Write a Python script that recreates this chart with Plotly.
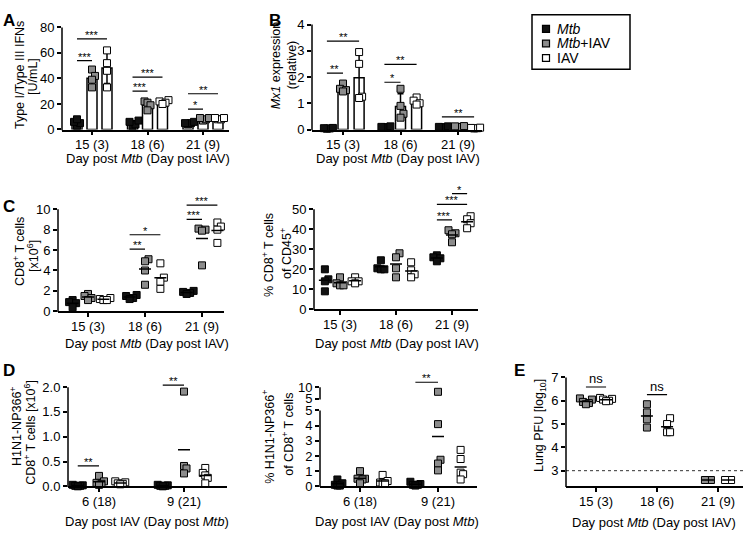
import numpy as np
import plotly.graph_objects as go

W, H = 745, 540
FONT = "Arial, 'Liberation Sans', Helvetica, sans-serif"

# ---------------- data ----------------
GROUPS_MTB = ["15 (3)", "18 (6)", "21 (9)"]
GROUPS_IAV = ["6 (18)", "9 (21)"]
SERIES_NAMES = ["<i>Mtb</i>", "<i>Mtb</i>+IAV", "IAV"]

# A: Type I/Type III IFNs [U/mL]
ifn_mtb = [[3, 5, 6, 8], [3, 4, 6, 7], [4, 5, 5, 6]]
ifn_mtb_iav = [[47, 42, 39, 33], [22, 21, 19, 15], [7, 8, 9, 9]]
ifn_iav = [[62, 52, 46, 33], [23, 22, 21, 20], [8, 8, 9, 9]]
ifn_sig = [(0, 0, 1, 54, "***"), (0, 0, 2, 71, "***"), (1, 0, 1, 30, "***"),
           (1, 0, 2, 41, "***"), (2, 0, 1, 16, "*"), (2, 0, 2, 28, "**")]

# B: Mx1 expression (relative)
mx1_mtb = [[0.03, 0.04, 0.05, 0.06], [0.07, 0.09, 0.1, 0.12], [0.07, 0.09, 0.1, 0.12]]
mx1_mtb_iav = [[1.75, 1.55, 1.5, 1.45], [1.55, 0.9, 0.6, 0.45], [0.08, 0.1, 0.12, 0.13]]
mx1_iav = [[2.95, 2.5, 1.25, 1.2], [1.22, 1.1, 1.0, 0.95], [0.04, 0.05, 0.06, 0.07]]
mx1_sig = [(0, 0, 1, 2.15, "**"), (0, 0, 2, 3.37, "**"), (1, 0, 1, 1.8, "*"),
           (1, 0, 2, 2.48, "**"), (2, 0, 2, 0.48, "**")]

# C left: CD8+ T cells [x10^6]
cd8_mtb = [[1.1, 0.9, 0.8, 0.4], [1.6, 1.5, 1.3, 1.2], [2.0, 1.9, 1.8, 1.7]]
cd8_mtb_iav = [[1.7, 1.5, 1.3, 1.1], [5.1, 4.9, 4.0, 2.6], [8.1, 8.0, 7.9, 4.5]]
cd8_iav = [[1.3, 1.2, 1.1, 1.1], [4.7, 3.3, 2.9, 2.2], [8.7, 8.3, 8.0, 6.7]]
cd8_sig = [(1, 0, 1, 6.1, "**"), (1, 0, 2, 7.5, "*"), (2, 0, 1, 9.0, "***"), (2, 0, 2, 10.4, "***")]

# C right: % CD8+ T cells of CD45+
pct_mtb = [[20, 15, 14, 9], [24.5, 20.5, 20, 20], [27, 26, 25.5, 24]]
pct_mtb_iav = [[16, 13, 12, 12], [28, 26, 20.5, 16], [39.5, 38, 37.5, 33.5]]
pct_iav = [[16, 14, 14, 13], [23.5, 19.5, 17.5, 16], [46.5, 45, 43, 40.5]]
pct_sig = [(2, 0, 1, 44.7, "***"), (2, 0, 2, 52.4, "***"), (2, 1, 2, 57.8, "*")]

# D left: H1N1-NP366+ CD8+ T cells [x10^6]
np_mtb = [[0.03, 0.02, 0.01, 0.01, 0.0], [0.03, 0.02, 0.01, 0.01, 0.0]]
np_mtb_iav = [[0.21, 0.1, 0.07, 0.05, 0.03], [1.91, 0.41, 0.36, 0.26]]
np_iav = [[0.1, 0.08, 0.06, 0.05, 0.04], [0.37, 0.27, 0.22, 0.17, 0.06]]
np_sig = [(0, 0, 1, 0.41, "**"), (1, 0, 1, 2.04, "**")]

# D right: % H1N1-NP366+ of CD8+ T cells (broken axis at 5)
npp_mtb = [[0.45, 0.2, 0.1, 0.05, 0.05], [0.3, 0.15, 0.1, 0.1, 0.05]]
npp_mtb_iav = [[1.0, 0.5, 0.5, 0.45, 0.2], [8.0, 4.1, 1.75, 1.5, 1.05]]
npp_iav = [[0.75, 0.35, 0.25, 0.2, 0.2], [2.4, 1.8, 0.9, 0.8, 0.45]]
npp_sig = [(1, 0, 1, 12.1, "**")]
npp_break = 5

# E: Lung PFU [log10]
pfu_mtb_iav = [[6.1, 6.05, 5.95, 5.9, 5.85], [5.85, 5.5, 5.2, 4.85], [2.6, 2.6, 2.6]]
pfu_iav = [[6.12, 6.08, 6.05, 6.0, 5.98], [5.25, 5.0, 4.65, 4.65], [2.6, 2.6, 2.6]]
pfu_sig = [(0, 1, 2, 6.59, "ns"), (1, 1, 2, 6.26, "ns")]
pfu_lod = 3

# ---------------- styling / layout ----------------
SERIES_FILL = ["#111111", "#8c8c8c", "#ffffff"]

CFG = {
    "A": dict(n=1, x_px=(62, 229), c_px=92, sp=55.5, y_px=(21, 126), yr=(0, 80), ytop=80, ticks=[0, 20, 40, 60, 80]),
    "B": dict(n=2, x_px=(312, 482), c_px=343, sp=57.5, y_px=(18, 126), yr=(0, 4), ytop=4, ticks=[0, 1, 2, 3, 4]),
    "C1": dict(n=3, x_px=(58, 224), c_px=88, sp=57, y_px=(208, 313), yr=(0, 10), ytop=11, ticks=[0, 2, 4, 6, 8, 10]),
    "C2": dict(n=4, x_px=(314, 478), c_px=340, sp=56, y_px=(208, 311), yr=(0, 50), ytop=60, ticks=[0, 10, 20, 30, 40, 50]),
    "D1": dict(n=5, x_px=(68, 227), c_px=99, sp=85, y_px=(391, 493), yr=(0, 2), ytop=2.2, ticks=[0, 0.5, 1, 1.5, 2]),
    "D2": dict(n=6, x_px=(320, 477), c_px=360, sp=78, y_px=(415, 493), yr=(0, 5), ytop=5, ticks=[0, 1, 2, 3, 4, 5]),
    "D2u": dict(n=7, x_px=(320, 477), y_px=(391, 403), yr=(5, 10), ytop=13, ticks=[5, 10]),
    "E": dict(n=8, x_px=(566, 743), c_px=596, sp=61, y_px=(381, 493), yr=(2.33, 7), ytop=7, ticks=[3, 4, 5, 6, 7]),
}

fig = go.Figure()
layout_axes = {}
shapes = []
annotations = []


def fx(px):
    return px / W


def fy(py):
    return 1.0 - py / H


def ids(n):
    return ("x" if n == 1 else f"x{n}"), ("y" if n == 1 else f"y{n}")


def key(letter, n):
    return f"{letter}axis" if n == 1 else f"{letter}axis{n}"


AX = dict(showgrid=False, zeroline=False, ticks="outside", ticklen=4, tickwidth=1.5, tickcolor="black",
          tickfont=dict(size=13, color="black", family=FONT), fixedrange=True)


def make_y(cfg, xn, fmt=None):
    n = cfg["n"]
    y0px, y1px = cfg["y_px"]
    lo, hi = cfg["yr"]
    ppu = (y1px - y0px) / (hi - lo)
    cfg["ppu_y"] = ppu
    top_px = y0px - (cfg["ytop"] - hi) * ppu
    d = dict(AX, domain=[fy(y1px), fy(top_px)], range=[lo, cfg["ytop"]], anchor=ids(xn)[0],
             tickvals=cfg["ticks"], showline=False)
    if fmt:
        d["tickformat"] = fmt
    layout_axes[key("y", n)] = d
    xl = cfg["x_px"][0]
    shapes.append(dict(type="line", xref="paper", yref="paper", x0=fx(xl), x1=fx(xl),
                       y0=fy(y1px + 0.75), y1=fy(y0px), line=dict(color="black", width=1.5)))


def make_x(cfg, labels):
    n = cfg["n"]
    x0px, x1px = cfg["x_px"]
    layout_axes[key("x", n)] = dict(
        AX, domain=[fx(x0px), fx(x1px)],
        range=[(x0px - cfg["c_px"]) / cfg["sp"], (x1px - cfg["c_px"]) / cfg["sp"]],
        anchor=ids(n)[1], tickvals=list(range(len(labels))), ticktext=labels,
        showline=True, linecolor="black", linewidth=1.5, ticklabelstandoff=-2)


def swarm_px(vals, ppu_y, step, dy_thr=6.0):
    order = sorted(range(len(vals)), key=lambda i: vals[i])
    placed, offs = [], [0.0] * len(vals)
    cands = [0.0]
    for j in range(1, 12):
        cands += [j * step, -j * step]
    for i in order:
        y = vals[i] * ppu_y
        chosen = 0.0
        for c in cands:
            if all(abs(c - px) >= step - 1e-6 or abs(y - py) >= dy_thr for px, py in placed):
                chosen = c
                break
        placed.append((chosen, y))
        offs[i] = chosen
    return offs


def pick(cfg, v, split, upper):
    if split is not None and v > split:
        return upper
    return cfg


def draw_points(cfg, series, offsets, step, split=None, upper=None, mean=True, mean_hw=6):
    xid = ids(cfg["n"])[0]
    buckets, means = {}, {}
    for s, groups in series:
        for g, vals in enumerate(groups):
            parts = {}
            for v in vals:
                c = pick(cfg, v, split, upper)
                parts.setdefault(c["n"], (c, []))[1].append(v)
            for yn, (c, vv) in parts.items():
                offs = swarm_px(vv, c["ppu_y"], step)
                b = buckets.setdefault((yn, s), ([], []))
                for v, o in zip(vv, offs):
                    b[0].append(g + offsets[s] + o / cfg["sp"])
                    b[1].append(v)
            if mean:
                m = float(np.mean(vals))
                c = pick(cfg, m, split, upper)
                hw = mean_hw / cfg["sp"]
                ml = means.setdefault(c["n"], ([], []))
                ml[0].extend([g + offsets[s] - hw, g + offsets[s] + hw, None])
                ml[1].extend([m, m, None])
    for (yn, s), (xs, ys) in buckets.items():
        fig.add_trace(go.Scatter(
            x=xs, y=ys, xaxis=xid, yaxis=ids(yn)[1], mode="markers",
            marker=dict(symbol="square", size=7, color=SERIES_FILL[s], line=dict(color="black", width=1)),
            cliponaxis=False, hoverinfo="skip", showlegend=False))
    for yn, (xs, ys) in means.items():
        fig.add_trace(go.Scatter(x=xs, y=ys, xaxis=xid, yaxis=ids(yn)[1], mode="lines",
                                 line=dict(color="black", width=1.5), hoverinfo="skip", showlegend=False))


def draw_bars(cfg, series, offsets, bar_px=10):
    xid, yid = ids(cfg["n"])
    for s, groups in series:
        means = [float(np.mean(v)) for v in groups]
        sds = [float(np.std(v, ddof=1)) for v in groups]
        fig.add_trace(go.Bar(
            x=[g + offsets[s] for g in range(len(groups))], y=means, width=bar_px / cfg["sp"],
            xaxis=xid, yaxis=yid, marker=dict(color="white", line=dict(color="black", width=1.5)),
            error_y=dict(type="data", array=sds, visible=True, color="black", thickness=1.5, width=3),
            hoverinfo="skip", showlegend=False))


def draw_sig(cfg, sig, offsets, split=None, upper=None):
    xid = ids(cfg["n"])[0]
    lines = {}
    for g, a, b, y, lab in sig:
        c = pick(cfg, y, split, upper)
        x0, x1 = g + offsets[a], g + offsets[b]
        L = lines.setdefault(c["n"], ([], []))
        L[0].extend([x0, x1, None])
        L[1].extend([y, y, None])
        star = "*" in lab
        annotations.append(dict(
            x=(x0 + x1) / 2, y=y, xref=xid, yref=ids(c["n"])[1], text=lab, showarrow=False,
            yanchor="bottom", yshift=(-4 if star else -1),
            font=dict(size=(11 if star else 13), family=FONT, color="black")))
    for yn, (xs, ys) in lines.items():
        fig.add_trace(go.Scatter(x=xs, y=ys, xaxis=xid, yaxis=ids(yn)[1], mode="lines",
                                 line=dict(color="black", width=1.2), hoverinfo="skip", showlegend=False))


def three(o):
    return [-o, 0.0, o]


# ---- Panel A ----
c = CFG["A"]; make_x(c, GROUPS_MTB); make_y(c, 1)
off = three(0.27)
ser = [(0, ifn_mtb), (1, ifn_mtb_iav), (2, ifn_iav)]
draw_bars(c, ser, off)
draw_points(c, ser, off, 3, mean=False)
draw_sig(c, ifn_sig, off)

# ---- Panel B ----
c = CFG["B"]; make_x(c, GROUPS_MTB); make_y(c, 2)
off = three(0.28)
ser = [(0, mx1_mtb), (1, mx1_mtb_iav), (2, mx1_iav)]
draw_bars(c, ser, off)
draw_points(c, ser, off, 3, mean=False)
draw_sig(c, mx1_sig, off)

# ---- Panel C left ----
c = CFG["C1"]; make_x(c, GROUPS_MTB); make_y(c, 3)
off = three(0.27)
draw_points(c, [(0, cd8_mtb), (1, cd8_mtb_iav), (2, cd8_iav)], off, 3.5)
draw_sig(c, cd8_sig, off)

# ---- Panel C right ----
c = CFG["C2"]; make_x(c, GROUPS_MTB); make_y(c, 4)
off = three(0.27)
draw_points(c, [(0, pct_mtb), (1, pct_mtb_iav), (2, pct_iav)], off, 3.5)
draw_sig(c, pct_sig, off)

# ---- Panel D left ----
c = CFG["D1"]; make_x(c, GROUPS_IAV); make_y(c, 5, fmt=".1f")
off = three(0.25)
draw_points(c, [(0, np_mtb), (1, np_mtb_iav), (2, np_iav)], off, 2.5)
draw_sig(c, np_sig, off)

# ---- Panel D right (broken axis) ----
c = CFG["D2"]; cu = CFG["D2u"]
make_x(c, GROUPS_IAV); make_y(c, 6); make_y(cu, 6)
off = three(0.29)
draw_points(c, [(0, npp_mtb), (1, npp_mtb_iav), (2, npp_iav)], off, 2.5, split=npp_break, upper=cu)
draw_sig(c, npp_sig, off, split=npp_break, upper=cu)

# ---- Panel E ----
c = CFG["E"]; make_x(c, GROUPS_MTB); make_y(c, 8)
off = [None, -0.165, 0.165]
xr = layout_axes["xaxis8"]["range"]
fig.add_trace(go.Scatter(x=xr, y=[pfu_lod, pfu_lod], xaxis="x8", yaxis="y8", mode="lines",
                         line=dict(color="#333333", width=1, dash="dot"), hoverinfo="skip", showlegend=False))
draw_points(c, [(1, pfu_mtb_iav), (2, pfu_iav)], off, 3)
draw_sig(c, pfu_sig, off)

# ---- axis titles ----
XT_MTB = "Day post <i>Mtb</i> (Day post IAV)"
XT_IAV = "Day post IAV (Day post <i>Mtb</i>)"
xtitles = [(XT_MTB, 148, 156), (XT_MTB, 398, 156), (XT_MTB, 147, 346), (XT_MTB, 397, 346),
           (XT_IAV, 147, 529), (XT_IAV, 397, 529), (XT_MTB, 654, 530)]
for t, x, y in xtitles:
    annotations.append(dict(x=fx(x), y=fy(y), xref="paper", yref="paper", text=t, showarrow=False,
                            xanchor="center", yanchor="middle", font=dict(size=13, family=FONT, color="black")))

ytitles = [
    ("Type I/Type III IFNs", 20, 70), ("[U/mL]", 33, 72),
    ("<i>Mx1</i> expression", 276, 60), ("(relative)", 292, 60),
    ("CD8<sup>+</sup> T cells", 19, 252), ("[x10<sup>6</sup>]", 33, 256),
    ("% CD8<sup>+</sup> T cells", 268, 255), ("of CD45<sup>+</sup>", 286, 254),
    ("H1N1-NP366<sup>+</sup>", 16, 432), ("CD8<sup>+</sup> T cells [x10<sup>6</sup>]", 30, 437),
    ("% H1N1-NP366<sup>+</sup>", 268, 442), ("of CD8<sup>+</sup> T cells", 288, 440),
    ("Lung PFU [log<sub>10</sub>]", 540, 431),
]
for t, x, y in ytitles:
    annotations.append(dict(x=fx(x), y=fy(y), xref="paper", yref="paper", text=t, showarrow=False,
                            textangle=-90, xanchor="center", yanchor="middle",
                            font=dict(size=12.5, family=FONT, color="black")))

# ---- panel letters ----
for t, x, y in [("A", 1, 2), ("B", 267, 2), ("C", 1, 193), ("D", 1, 362), ("E", 512, 362)]:
    annotations.append(dict(x=fx(x), y=fy(y), xref="paper", yref="paper", text=f"<b>{t}</b>",
                            showarrow=False, xanchor="left", yanchor="top",
                            font=dict(size=17, family=FONT, color="black")))

# ---- legend ----
shapes.append(dict(type="rect", xref="paper", yref="paper", x0=fx(532), x1=fx(630), y0=fy(64), y1=fy(8),
                   line=dict(color="black", width=1.5), fillcolor="rgba(0,0,0,0)"))
for i, (name, fill) in enumerate(zip(SERIES_NAMES, SERIES_FILL)):
    ry = 22.5 + 15 * i
    shapes.append(dict(type="rect", xref="paper", yref="paper", x0=fx(542.5), x1=fx(549.5),
                       y0=fy(ry + 3.5), y1=fy(ry - 3.5), fillcolor=fill, line=dict(color="black", width=1.2)))
    annotations.append(dict(x=fx(555), y=fy(ry), xref="paper", yref="paper", text=name, showarrow=False,
                            xanchor="left", yanchor="middle", font=dict(size=14, family=FONT, color="black")))

fig.update_layout(width=W, height=H, margin=dict(l=0, r=0, t=0, b=0), paper_bgcolor="white",
                  plot_bgcolor="rgba(0,0,0,0)", showlegend=False, barmode="overlay", hovermode=False,
                  font=dict(family=FONT, size=13, color="black"), shapes=shapes, annotations=annotations,
                  **layout_axes)

fig.write_html("out.html", config={"displayModeBar": False},
               post_script="document.body.style.margin='0px';document.body.style.overflow='hidden';")
